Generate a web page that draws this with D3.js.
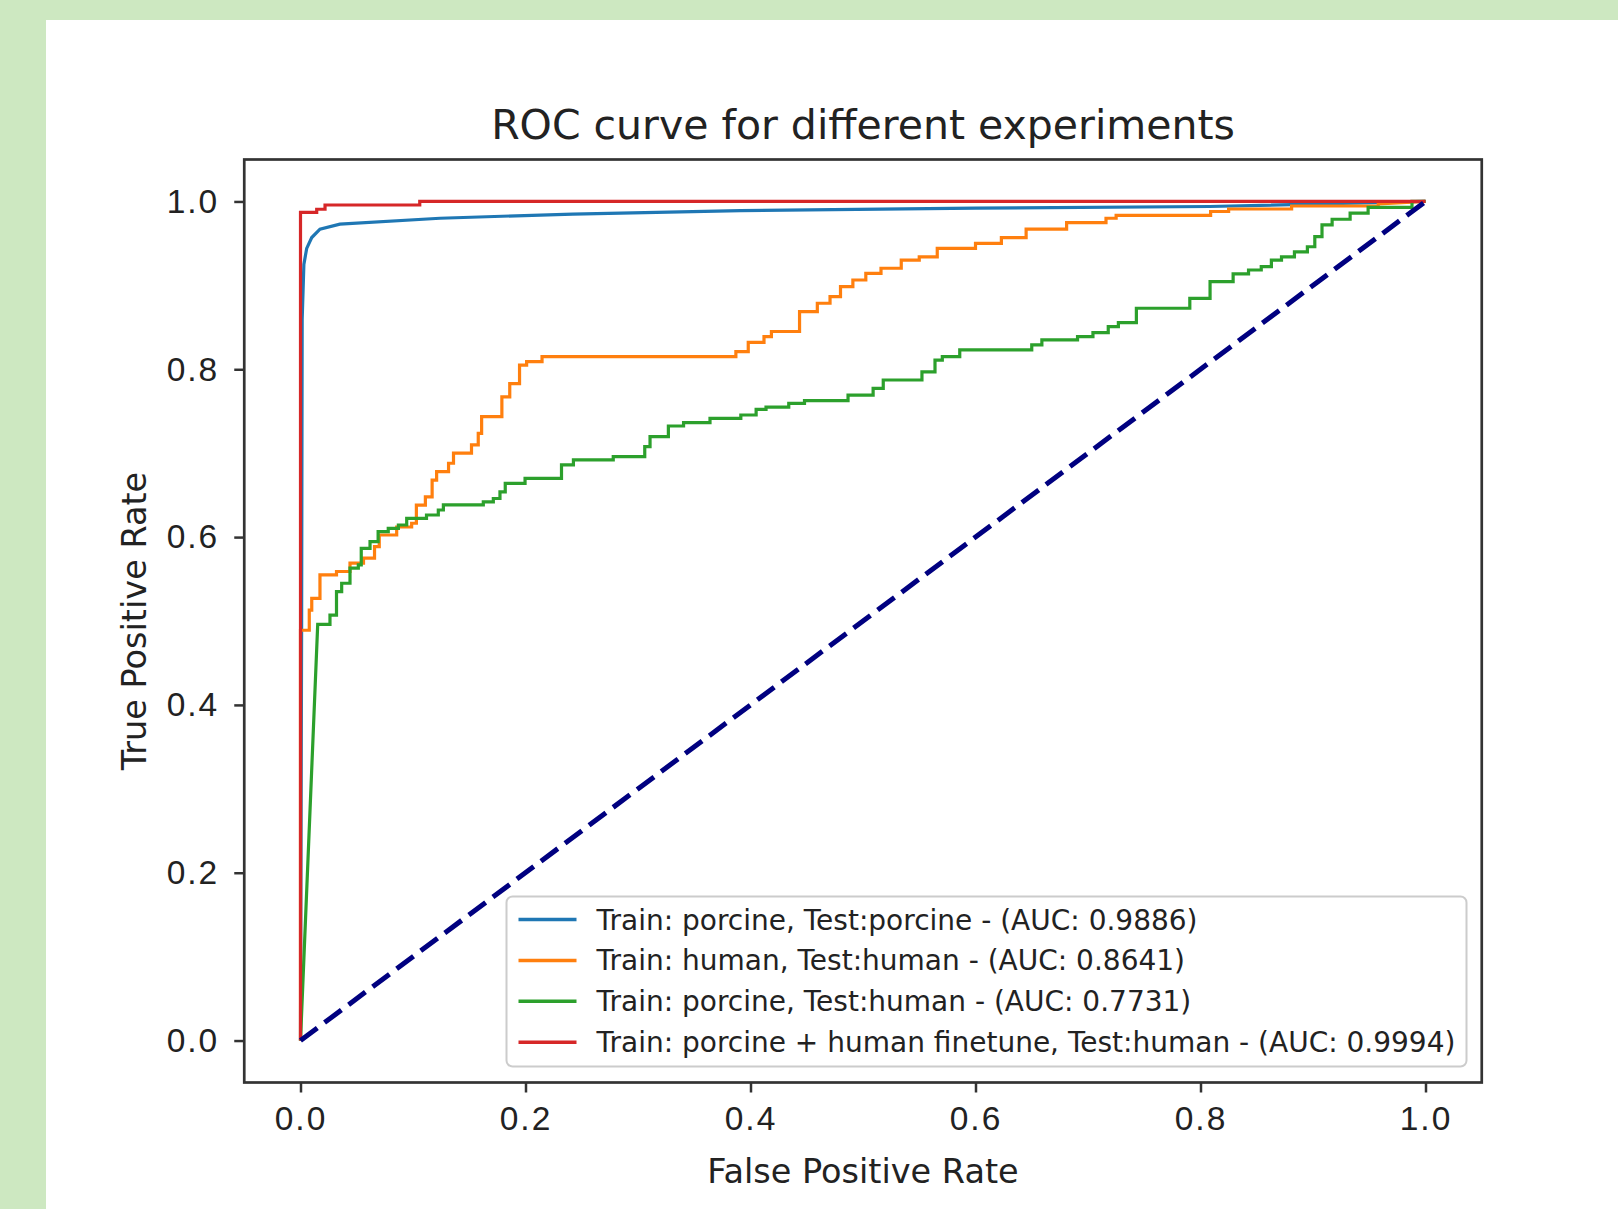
<!DOCTYPE html>
<html>
<head>
<meta charset="utf-8">
<script src="https://cdn.jsdelivr.net/npm/d3@7"></script>
<style>
  body { margin: 0; background: #cde8c1; }
  svg { display: block; font-family: "DejaVu Sans", sans-serif; }
  .axis text { font-size: 33.5px; fill: #222; letter-spacing: 2px; }
  .axis line { stroke: #333; stroke-width: 2.5; }
  .axis path { display: none; }
</style>
</head>
<body>
<svg id="chart" width="1618" height="1209"></svg>
<script>
// ======== data
const seriesNames = [
  "Train: porcine, Test:porcine - (AUC: 0.9886)",
  "Train: human, Test:human - (AUC: 0.8641)",
  "Train: porcine, Test:human - (AUC: 0.7731)",
  "Train: porcine + human finetune, Test:human - (AUC: 0.9994)"
];
const seriesColors = ["#1f77b4", "#ff7f0e", "#2ca02c", "#d62728"];
const tickValues = [0, 0.2, 0.4, 0.6, 0.8, 1.0];

// [fpr, tpr]
const rocPorcinePorcine = [
  [0, 0], [0.001, 0.5], [0.0015, 0.86], [0.003, 0.925], [0.0055, 0.944],
  [0.01, 0.957], [0.0173, 0.967], [0.035, 0.973], [0.124, 0.98],
  [0.242, 0.985], [0.391, 0.989], [0.6, 0.992], [0.808, 0.994], [1, 1]
];

const rocHumanHuman = [
  [0, 0], [0, 0.41], [0, 0.489], [0.0078, 0.489], [0.0078, 0.513], [0.01, 0.513],
  [0.01, 0.527], [0.0173, 0.527], [0.0173, 0.555], [0.032, 0.555], [0.032, 0.559],
  [0.044, 0.559], [0.044, 0.569], [0.056, 0.569], [0.056, 0.575], [0.0658, 0.575],
  [0.0658, 0.5886], [0.07, 0.5886], [0.07, 0.6025], [0.0855, 0.6025], [0.0855, 0.612],
  [0.0988, 0.612], [0.0988, 0.6165], [0.103, 0.6165], [0.103, 0.638], [0.111, 0.638],
  [0.111, 0.648], [0.117, 0.648], [0.117, 0.668], [0.121, 0.668], [0.121, 0.678],
  [0.1316, 0.678], [0.1316, 0.688], [0.136, 0.688], [0.136, 0.7], [0.152, 0.7],
  [0.152, 0.71], [0.158, 0.71], [0.158, 0.7237], [0.161, 0.7237], [0.161, 0.7435],
  [0.179, 0.7435], [0.179, 0.767], [0.186, 0.767], [0.186, 0.783], [0.1947, 0.783],
  [0.1947, 0.805], [0.201, 0.805], [0.201, 0.809], [0.2147, 0.809], [0.2147, 0.815],
  [0.387, 0.815], [0.387, 0.821], [0.398, 0.821], [0.398, 0.832], [0.412, 0.832],
  [0.412, 0.839], [0.4186, 0.839], [0.4186, 0.845], [0.4436, 0.845], [0.4436, 0.8687],
  [0.4594, 0.8687], [0.4594, 0.8787], [0.4707, 0.8787], [0.4707, 0.8865], [0.48, 0.8865],
  [0.48, 0.8985], [0.491, 0.8985], [0.491, 0.9064], [0.5025, 0.9064], [0.5025, 0.9144],
  [0.516, 0.9144], [0.516, 0.9204], [0.534, 0.9204], [0.534, 0.93], [0.55, 0.93],
  [0.55, 0.934], [0.566, 0.934], [0.566, 0.944], [0.6, 0.944], [0.6, 0.95],
  [0.623, 0.95], [0.623, 0.957], [0.645, 0.957], [0.645, 0.967], [0.681, 0.967],
  [0.681, 0.9747], [0.716, 0.9747], [0.716, 0.98], [0.725, 0.98], [0.725, 0.9835],
  [0.809, 0.9835], [0.809, 0.988], [0.825, 0.988], [0.825, 0.991], [0.881, 0.991],
  [0.881, 0.9946], [0.958, 0.9946], [0.958, 0.997], [1, 1]
];

const rocPorcineHuman = [
  [0, 0], [0.0153, 0.496], [0.0262, 0.496], [0.0262, 0.507], [0.032, 0.507],
  [0.032, 0.535], [0.0366, 0.535], [0.0366, 0.545], [0.044, 0.545], [0.044, 0.563],
  [0.0514, 0.563], [0.0514, 0.567], [0.054, 0.567], [0.054, 0.5866], [0.0618, 0.5866],
  [0.0618, 0.5945], [0.069, 0.5945], [0.069, 0.6065], [0.078, 0.6065], [0.078, 0.6105],
  [0.087, 0.6105], [0.087, 0.6144], [0.0944, 0.6144], [0.0944, 0.6224], [0.112, 0.6224],
  [0.112, 0.6263], [0.1225, 0.6263], [0.1225, 0.6323], [0.127, 0.6323], [0.127, 0.6383],
  [0.1625, 0.6383], [0.1625, 0.642], [0.1714, 0.642], [0.1714, 0.646], [0.1773, 0.646],
  [0.1773, 0.654], [0.182, 0.654], [0.182, 0.664], [0.1996, 0.664], [0.1996, 0.67],
  [0.232, 0.67], [0.232, 0.686], [0.2426, 0.686], [0.2426, 0.692], [0.278, 0.692],
  [0.278, 0.6958], [0.306, 0.6958], [0.306, 0.7077], [0.3107, 0.7077], [0.3107, 0.7197],
  [0.327, 0.7197], [0.327, 0.7324], [0.3405, 0.7324], [0.3405, 0.7364], [0.364, 0.7364],
  [0.364, 0.7416], [0.3914, 0.7416], [0.3914, 0.7455], [0.405, 0.7455], [0.405, 0.7523],
  [0.4138, 0.7523], [0.4138, 0.755], [0.434, 0.755], [0.434, 0.7594], [0.448, 0.7594],
  [0.448, 0.7626], [0.4867, 0.7626], [0.4867, 0.7693], [0.509, 0.7693], [0.509, 0.7773],
  [0.518, 0.7773], [0.518, 0.7872], [0.5524, 0.7872], [0.5524, 0.797], [0.564, 0.797],
  [0.564, 0.811], [0.5705, 0.811], [0.5705, 0.815], [0.586, 0.815], [0.586, 0.823],
  [0.65, 0.823], [0.65, 0.829], [0.659, 0.829], [0.659, 0.835], [0.6907, 0.835],
  [0.6907, 0.8388], [0.7044, 0.8388], [0.7044, 0.8437], [0.718, 0.8437], [0.718, 0.8508],
  [0.727, 0.8508], [0.727, 0.8556], [0.743, 0.8556], [0.743, 0.8727], [0.7905, 0.8727],
  [0.7905, 0.8846], [0.8085, 0.8846], [0.8085, 0.9044], [0.829, 0.9044], [0.829, 0.9136],
  [0.8427, 0.9136], [0.8427, 0.9183], [0.854, 0.9183], [0.854, 0.9223], [0.863, 0.9223],
  [0.863, 0.93], [0.872, 0.93], [0.872, 0.934], [0.8835, 0.934], [0.8835, 0.94],
  [0.895, 0.94], [0.895, 0.946], [0.9016, 0.946], [0.9016, 0.958], [0.908, 0.958],
  [0.908, 0.972], [0.917, 0.972], [0.917, 0.9788], [0.933, 0.9788], [0.933, 0.986],
  [0.949, 0.986], [0.949, 0.993], [0.988, 0.993], [0.988, 1], [1, 1]
];

const rocFinetuneHuman = [
  [0, 0], [0, 0.831], [0, 0.987], [0.0144, 0.987], [0.0144, 0.9907], [0.0218, 0.9907],
  [0.0218, 0.9958], [0.106, 0.9958], [0.106, 1], [1, 1]
];

const chanceLine = [[0, 0], [1, 1]];
const rocSeries = [rocPorcinePorcine, rocHumanHuman, rocPorcineHuman, rocFinetuneHuman];

// ======== frame & scales
const svg = d3.select("#chart");
const plot = { left: 244.25, right: 1481.75, top: 159.5, bottom: 1082.5 };

svg.append("rect")
  .attr("x", 46).attr("y", 20)
  .attr("width", 1618 - 46).attr("height", 1209 - 20)
  .attr("fill", "#fff");

const x = d3.scaleLinear().domain([-0.05, 1.05]).range([plot.left, plot.right]);
const y = d3.scaleLinear().domain([-0.05, 1.05]).range([plot.bottom, plot.top]);

svg.append("g")
  .attr("class", "axis")
  .attr("transform", `translate(0,${plot.bottom})`)
  .call(d3.axisBottom(x).tickValues(tickValues).tickFormat(d3.format(".1f")).tickSize(10).tickPadding(14));

svg.append("g")
  .attr("class", "axis")
  .attr("transform", `translate(${plot.left},0)`)
  .call(d3.axisLeft(y).tickValues(tickValues).tickFormat(d3.format(".1f")).tickSize(10).tickPadding(15));

const line = d3.line().x(d => x(d[0])).y(d => y(d[1]));

svg.append("defs").append("clipPath").attr("id", "clip")
  .append("rect")
  .attr("x", plot.left).attr("y", plot.top)
  .attr("width", plot.right - plot.left).attr("height", plot.bottom - plot.top);

const curves = svg.append("g").attr("clip-path", "url(#clip)");

curves.selectAll("path.roc")
  .data(rocSeries)
  .join("path")
  .attr("class", "roc")
  .attr("d", line)
  .attr("fill", "none")
  .attr("stroke", (d, i) => seriesColors[i])
  .attr("stroke-width", 3.2)
  .attr("stroke-linejoin", "miter");

curves.append("path")
  .attr("d", line(chanceLine))
  .attr("fill", "none")
  .attr("stroke", "#000080")
  .attr("stroke-width", 5)
  .attr("stroke-dasharray", "21,9");

svg.append("rect")
  .attr("x", plot.left).attr("y", plot.top)
  .attr("width", plot.right - plot.left).attr("height", plot.bottom - plot.top)
  .attr("fill", "none")
  .attr("stroke", "#333")
  .attr("stroke-width", 2.7);

// ======== texts
svg.append("text")
  .attr("x", (plot.left + plot.right) / 2).attr("y", 139)
  .attr("text-anchor", "middle")
  .attr("font-size", 41).attr("fill", "#222")
  .text("ROC curve for different experiments");

svg.append("text")
  .attr("x", (plot.left + plot.right) / 2).attr("y", 1183)
  .attr("text-anchor", "middle")
  .attr("font-size", 33.5).attr("fill", "#222")
  .text("False Positive Rate");

svg.append("text")
  .attr("transform", `translate(146,${(plot.top + plot.bottom) / 2}) rotate(-90)`)
  .attr("text-anchor", "middle")
  .attr("font-size", 33.5).attr("fill", "#222")
  .text("True Positive Rate");

// ======== legend
const legend = svg.append("g").attr("transform", "translate(506.5,896.5)");

legend.append("rect")
  .attr("width", 960).attr("height", 170)
  .attr("rx", 6).attr("ry", 6)
  .attr("fill", "#fff").attr("fill-opacity", 0.85)
  .attr("stroke", "#ccc").attr("stroke-width", 2);

const rows = legend.selectAll("g.row")
  .data(seriesNames)
  .join("g")
  .attr("class", "row")
  .attr("transform", (d, i) => `translate(0,${23 + i * 40.9})`);

rows.append("line")
  .attr("x1", 12).attr("x2", 70)
  .attr("stroke", (d, i) => seriesColors[i])
  .attr("stroke-width", 3.5);

rows.append("text")
  .attr("x", 90).attr("dy", "0.36em")
  .attr("font-size", 28).attr("fill", "#222")
  .text(d => d);
</script>
</body>
</html>
